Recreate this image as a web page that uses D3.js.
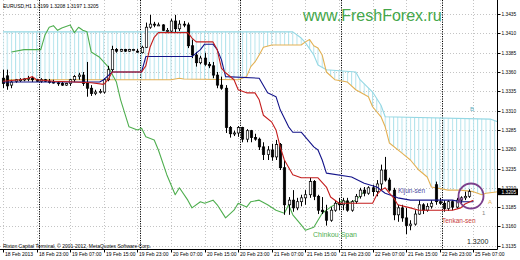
<!DOCTYPE html>
<html>
<head>
<meta charset="utf-8">
<script src="https://cdn.jsdelivr.net/npm/d3@7"></script>
<style>
    body { margin: 0; background: #fff; }
    svg { display: block; font-family: "Liberation Sans", Arial, sans-serif; }
</style>
</head>
<body>
<svg id="chart" width="520" height="260"></svg>
<script>
const timeLabels = ["18 Feb 2013", "18 Feb 23:00", "19 Feb 07:00", "19 Feb 15:00", "19 Feb 23:00",
    "20 Feb 07:00", "20 Feb 15:00", "20 Feb 23:00", "21 Feb 07:00", "21 Feb 15:00",
    "21 Feb 23:00", "22 Feb 07:00", "21 Feb 15:00", "22 Feb 23:00", "25 Feb 07:00"];
const timeLabelBars = [0, 8, 16, 24, 32, 40, 48, 56, 64, 72, 80, 88, 96, 104, 112];
const daySeparatorBars = [8.5, 32.5, 56.5, 80.5, 104.5];
const priceTicks = [1.3135, 1.3160, 1.3185, 1.3210, 1.3235, 1.3260, 1.3285, 1.3310,
    1.3335, 1.3360, 1.3385, 1.3410, 1.3435];
const lastPrice = 1.3205;

// [open, high, low, close], one per H1 bar
const candles = [
    [1.3352, 1.3363, 1.3339, 1.3345], [1.3355, 1.3363, 1.3337, 1.3342], [1.3343, 1.3350, 1.3339, 1.3347],
    [1.3348, 1.3351, 1.3346, 1.3350], [1.3350, 1.3352, 1.3347, 1.3350], [1.3350, 1.3352, 1.3348, 1.3351],
    [1.3351, 1.3355, 1.3348, 1.3352], [1.3352, 1.3354, 1.3347, 1.3350], [1.3350, 1.3351, 1.3347, 1.3348],
    [1.3348, 1.3352, 1.3346, 1.3350], [1.3350, 1.3351, 1.3347, 1.3348], [1.3348, 1.3351, 1.3345, 1.3347],
    [1.3347, 1.3350, 1.3345, 1.3346], [1.3346, 1.3348, 1.3342, 1.3345], [1.3345, 1.3347, 1.3342, 1.3343],
    [1.3343, 1.3346, 1.3342, 1.3345], [1.3345, 1.3351, 1.3342, 1.3350], [1.3350, 1.3356, 1.3347, 1.3354],
    [1.3354, 1.3359, 1.3350, 1.3356], [1.3356, 1.3360, 1.3342, 1.3345], [1.3345, 1.3373, 1.3328, 1.3339],
    [1.3339, 1.3343, 1.3329, 1.3332], [1.3332, 1.3337, 1.3330, 1.3334], [1.3334, 1.3338, 1.3332, 1.3335],
    [1.3334, 1.3352, 1.3332, 1.3350], [1.3350, 1.3368, 1.3348, 1.3363], [1.3363, 1.3394, 1.3360, 1.3389],
    [1.3389, 1.3391, 1.3385, 1.3387], [1.3387, 1.3390, 1.3386, 1.3389], [1.3389, 1.3390, 1.3386, 1.3387],
    [1.3387, 1.3390, 1.3386, 1.3389], [1.3389, 1.3390, 1.3387, 1.3389], [1.3387, 1.3390, 1.3385, 1.3386],
    [1.3385, 1.3394, 1.3384, 1.3392], [1.3392, 1.3424, 1.3391, 1.3418], [1.3418, 1.3434, 1.3416, 1.3422],
    [1.3422, 1.3425, 1.3418, 1.3421], [1.3421, 1.3424, 1.3420, 1.3421], [1.3421, 1.3422, 1.3413, 1.3414],
    [1.3413, 1.3417, 1.3411, 1.3414], [1.3413, 1.3429, 1.3412, 1.3426], [1.3426, 1.3434, 1.3411, 1.3416],
    [1.3416, 1.3427, 1.3413, 1.3422], [1.3422, 1.3426, 1.3418, 1.3421], [1.3421, 1.3424, 1.3391, 1.3394],
    [1.3394, 1.3402, 1.3378, 1.3382], [1.3382, 1.3386, 1.3367, 1.3372], [1.3372, 1.3381, 1.3370, 1.3378],
    [1.3378, 1.3385, 1.3368, 1.3370], [1.3370, 1.3373, 1.3365, 1.3368], [1.3368, 1.3373, 1.3352, 1.3356],
    [1.3356, 1.3360, 1.3339, 1.3343], [1.3343, 1.3354, 1.3337, 1.3339], [1.3339, 1.3343, 1.3281, 1.3288],
    [1.3288, 1.3290, 1.3275, 1.3280], [1.3280, 1.3284, 1.3277, 1.3281], [1.3281, 1.3290, 1.3276, 1.3288],
    [1.3288, 1.3289, 1.3269, 1.3273], [1.3273, 1.3286, 1.3269, 1.3284], [1.3284, 1.3285, 1.3269, 1.3275],
    [1.3275, 1.3280, 1.3271, 1.3273], [1.3273, 1.3275, 1.3259, 1.3263], [1.3263, 1.3269, 1.3246, 1.3253],
    [1.3253, 1.3264, 1.3246, 1.3259], [1.3259, 1.3267, 1.3245, 1.3250], [1.3250, 1.3272, 1.3246, 1.3266],
    [1.3266, 1.3268, 1.3233, 1.3236], [1.3236, 1.3246, 1.3175, 1.3188], [1.3188, 1.3198, 1.3175, 1.3194],
    [1.3194, 1.3207, 1.3179, 1.3184], [1.3184, 1.3197, 1.3181, 1.3192], [1.3192, 1.3201, 1.3186, 1.3197],
    [1.3197, 1.3207, 1.3188, 1.3201], [1.3201, 1.3223, 1.3197, 1.3218], [1.3218, 1.3220, 1.3194, 1.3199],
    [1.3199, 1.3201, 1.3176, 1.3181], [1.3181, 1.3198, 1.3176, 1.3179], [1.3179, 1.3188, 1.3161, 1.3168],
    [1.3168, 1.3185, 1.3166, 1.3181], [1.3181, 1.3194, 1.3179, 1.3190], [1.3190, 1.3197, 1.3181, 1.3188],
    [1.3188, 1.3197, 1.3181, 1.3193], [1.3193, 1.3197, 1.3179, 1.3181], [1.3181, 1.3194, 1.3179, 1.3192],
    [1.3192, 1.3202, 1.3189, 1.3199], [1.3199, 1.3210, 1.3196, 1.3207], [1.3207, 1.3211, 1.3199, 1.3203],
    [1.3203, 1.3212, 1.3201, 1.3210], [1.3210, 1.3214, 1.3199, 1.3205], [1.3205, 1.3220, 1.3199, 1.3215],
    [1.3215, 1.3240, 1.3207, 1.3233], [1.3233, 1.3250, 1.3218, 1.3220], [1.3220, 1.3223, 1.3205, 1.3207],
    [1.3207, 1.3210, 1.3168, 1.3175], [1.3175, 1.3188, 1.3166, 1.3184], [1.3184, 1.3188, 1.3166, 1.3171],
    [1.3171, 1.3184, 1.3150, 1.3161], [1.3161, 1.3168, 1.3155, 1.3163], [1.3163, 1.3181, 1.3161, 1.3176],
    [1.3176, 1.3194, 1.3175, 1.3188], [1.3188, 1.3190, 1.3176, 1.3181], [1.3181, 1.3190, 1.3179, 1.3186],
    [1.3186, 1.3194, 1.3183, 1.3190], [1.3214, 1.3218, 1.3188, 1.3192], [1.3192, 1.3197, 1.3188, 1.3190],
    [1.3190, 1.3194, 1.3179, 1.3183], [1.3183, 1.3194, 1.3180, 1.3192], [1.3192, 1.3194, 1.3181, 1.3185],
    [1.3185, 1.3197, 1.3183, 1.3194], [1.3194, 1.3199, 1.3188, 1.3197], [1.3197, 1.3205, 1.3194, 1.3199],
    [1.3199, 1.3208, 1.3197, 1.3205]
];

// Ichimoku lines as [bar, price] points
const tenkanSen = [[0, 1.3348], [4, 1.3350], [6, 1.3352], [7, 1.3354], [8, 1.3350], [12, 1.3348], [17, 1.3347],
    [21, 1.3346], [24, 1.3344], [25, 1.3350], [26, 1.3360], [33, 1.3360], [34, 1.3368], [35, 1.3392],
    [36, 1.3405], [37, 1.3411], [44, 1.3411], [45, 1.3404], [46, 1.3399], [50, 1.3399], [51, 1.3389],
    [52, 1.3365], [53, 1.3359], [55, 1.3350], [56, 1.3337], [58, 1.3333], [60, 1.3333], [61, 1.3324],
    [62, 1.3304], [64, 1.3295], [65, 1.3285], [66, 1.3263], [67, 1.3246], [69, 1.3227], [71, 1.3223],
    [75, 1.3223], [77, 1.3211], [78, 1.3198], [80, 1.3190], [88, 1.3190], [89, 1.3201], [90, 1.3207],
    [91, 1.3210], [92, 1.3203], [93, 1.3197], [94, 1.3188], [97, 1.3184], [99, 1.3181], [107, 1.3181],
    [109, 1.3184], [110, 1.3189], [112, 1.3194]];
const kijunSen = [[0, 1.3347], [23, 1.3347], [24, 1.3350], [26, 1.3360], [33, 1.3360], [34, 1.3380],
    [45, 1.3380], [47, 1.3389], [48, 1.3396], [50, 1.3396], [51, 1.3389], [52, 1.3376], [53, 1.3354],
    [61, 1.3352], [63, 1.3333], [65, 1.3328], [66, 1.3311], [68, 1.3289], [69, 1.3282], [71, 1.3282],
    [74, 1.3263], [75, 1.3259], [76, 1.3246], [77, 1.3229], [83, 1.3224], [86, 1.3216], [89, 1.3211],
    [91, 1.3203], [94, 1.3197], [97, 1.3194], [107, 1.3194], [109, 1.3192], [112, 1.3192]];
const senkouA = [[0, 1.3350], [40, 1.3350], [42, 1.3352], [43, 1.3351], [56, 1.3350], [58, 1.3354],
    [59, 1.3367], [60, 1.3373], [61, 1.3382], [62, 1.3392], [64, 1.3395], [71, 1.3395], [72, 1.3399],
    [73, 1.3402], [74, 1.3394], [75, 1.3391], [76, 1.3382], [77, 1.3360], [79, 1.3350], [82, 1.3347],
    [84, 1.3337], [87, 1.3328], [88, 1.3315], [90, 1.3302], [91, 1.3289], [92, 1.3268], [95, 1.3255],
    [97, 1.3246], [99, 1.3233], [101, 1.3224], [102, 1.3211], [106, 1.3207], [109, 1.3207], [112, 1.3205],
    [114, 1.3201], [115, 1.3203], [118, 1.3205]];
const senkouB = [[0, 1.3412], [69, 1.3412], [71, 1.3404], [72, 1.3398], [74, 1.3382], [75, 1.3369],
    [77, 1.3363], [84, 1.3360], [85, 1.3350], [88, 1.3334], [90, 1.3317], [91, 1.3302], [116, 1.3299],
    [118, 1.3295]];
const chinkouSpan = [[2, 1.3386], [5, 1.3389], [9, 1.3389], [10, 1.3408], [11, 1.3418], [12, 1.3420],
    [13, 1.3414], [14, 1.3417], [16, 1.3421], [17, 1.3411], [18, 1.3418], [19, 1.3414], [20, 1.3412],
    [21, 1.3386], [23, 1.3379], [25, 1.3367], [27, 1.3347], [28, 1.3324], [30, 1.3289], [32, 1.3285],
    [33, 1.3287], [34, 1.3276], [36, 1.3272], [37, 1.3259], [39, 1.3227], [40, 1.3214], [41, 1.3201],
    [42, 1.3210], [44, 1.3194], [45, 1.3184], [47, 1.3192], [48, 1.3190], [50, 1.3194], [51, 1.3188],
    [53, 1.3171], [55, 1.3181], [56, 1.3190], [58, 1.3185], [59, 1.3192], [61, 1.3194], [63, 1.3188],
    [65, 1.3181], [67, 1.3177], [68, 1.3188], [69, 1.3175], [71, 1.3162], [72, 1.3155], [74, 1.3159],
    [75, 1.3168], [76, 1.3177], [78, 1.3185], [81, 1.3194], [82, 1.3190], [84, 1.3194], [86, 1.3205]];

const svg = d3.select("#chart");
const plotRight = 497.5, plotBottom = 249.5;

const x = d3.scaleLinear().domain([0, 1]).range([3, 7.2]);
const y = d3.scaleLinear().domain([1.3135, 1.3435]).range([245.7, 14.1]);

const defs = svg.append("defs");
defs.append("clipPath").attr("id", "plotClip")
    .append("rect").attr("x", 0).attr("y", 0).attr("width", plotRight).attr("height", plotBottom);

const hatch = defs.append("pattern")
    .attr("id", "cloudHatch")
    .attr("patternUnits", "userSpaceOnUse")
    .attr("x", x(0) - 0.5).attr("y", 0)
    .attr("width", x(1) - x(0)).attr("height", 10);
hatch.append("line")
    .attr("x1", 0.5).attr("x2", 0.5).attr("y1", 0).attr("y2", 10)
    .attr("stroke", "#b3e3ec").attr("stroke-width", 1);

// grid
const grid = svg.append("g");
grid.selectAll(".hgrid")
    .data(priceTicks)
    .enter().append("line")
    .attr("x1", 0).attr("x2", plotRight)
    .attr("y1", d => Math.round(y(d)) + 0.5).attr("y2", d => Math.round(y(d)) + 0.5)
    .attr("stroke", "#c4c4c4").attr("stroke-width", 1).attr("stroke-dasharray", "1,2");
grid.selectAll(".vgrid")
    .data(timeLabelBars)
    .enter().append("line")
    .attr("x1", d => Math.round(x(d)) + 0.5).attr("x2", d => Math.round(x(d)) + 0.5)
    .attr("y1", 0).attr("y2", plotBottom)
    .attr("stroke", "#c4c4c4").attr("stroke-width", 1).attr("stroke-dasharray", "1,2");

const plot = svg.append("g").attr("clip-path", "url(#plotClip)");

// kumo cloud: polygon between senkou A and senkou B, hatched
const cloudPts = senkouA.concat(senkouB.slice().reverse());
plot.append("path")
    .attr("d", d3.line().x(d => x(d[0])).y(d => y(d[1]))(cloudPts) + "Z")
    .attr("fill", "url(#cloudHatch)")
    .attr("fill-rule", "evenodd")
    .attr("stroke", "none");

// day separators
plot.selectAll(".daySep")
    .data(daySeparatorBars)
    .enter().append("line")
    .attr("x1", d => Math.round(x(d)) + 0.5).attr("x2", d => Math.round(x(d)) + 0.5)
    .attr("y1", 0).attr("y2", plotBottom)
    .attr("stroke", "#000").attr("stroke-width", 1).attr("stroke-dasharray", "1.2,1.2");

const line = d3.line().x(d => x(d[0])).y(d => y(d[1]));

function drawLine(data, color, width) {
    plot.append("path")
        .attr("d", line(data))
        .attr("fill", "none")
        .attr("stroke", color)
        .attr("stroke-width", width)
        .attr("stroke-linejoin", "round");
}

drawLine(senkouB, "#95d8e4", 1.1);
drawLine(senkouA, "#e3b154", 1.1);
drawLine(chinkouSpan, "#4fae4f", 1.1);

// candles
const bars = plot.append("g");
candles.forEach((c, i) => {
    const [o, h, l, cl] = c;
    const cx = Math.round(x(i)) + 0.5;
    bars.append("line")
        .attr("x1", cx).attr("x2", cx)
        .attr("y1", y(h)).attr("y2", y(l))
        .attr("stroke", "#000").attr("stroke-width", 1);
    const top = y(Math.max(o, cl));
    const hgt = Math.max(1, Math.abs(y(o) - y(cl)));
    bars.append("rect")
        .attr("x", cx - 1.2).attr("y", top)
        .attr("width", 2.4).attr("height", hgt)
        .attr("fill", cl >= o ? "#fff" : "#000")
        .attr("stroke", "#000").attr("stroke-width", 0.7);
});

drawLine(kijunSen, "#14148a", 1.1);
drawLine(tenkanSen, "#c41e1e", 1.1);

// axes frame
svg.append("line")
    .attr("x1", plotRight).attr("x2", plotRight).attr("y1", 0).attr("y2", plotBottom)
    .attr("stroke", "#000");
svg.append("line")
    .attr("x1", 0).attr("x2", plotRight).attr("y1", plotBottom).attr("y2", plotBottom)
    .attr("stroke", "#000");

// price axis
const yAxis = svg.append("g");
priceTicks.forEach(p => {
    const ty = Math.round(y(p)) + 0.5;
    yAxis.append("line")
        .attr("x1", plotRight).attr("x2", plotRight + 3).attr("y1", ty).attr("y2", ty)
        .attr("stroke", "#000");
    yAxis.append("text")
        .attr("x", plotRight + 4).attr("y", ty + 1.7)
        .attr("font-size", "4.8px").attr("fill", "#000")
        .text(p.toFixed(4));
});
yAxis.append("rect")
    .attr("x", plotRight + 0.5).attr("y", y(lastPrice) - 3)
    .attr("width", 20).attr("height", 6.5)
    .attr("fill", "#000");
yAxis.append("text")
    .attr("x", plotRight + 4).attr("y", y(lastPrice) + 2)
    .attr("font-size", "4.8px").attr("fill", "#fff")
    .text(lastPrice.toFixed(4));

// time axis
const xAxis = svg.append("g");
timeLabelBars.forEach((b, k) => {
    const tx = Math.round(x(b)) + 0.5;
    xAxis.append("line")
        .attr("x1", tx).attr("x2", tx).attr("y1", plotBottom).attr("y2", plotBottom + 3)
        .attr("stroke", "#000");
    xAxis.append("text")
        .attr("x", tx + 1.5).attr("y", 256)
        .attr("font-size", "5px").attr("fill", "#000")
        .text(timeLabels[k]);
});

// texts
svg.append("text").attr("x", 3).attr("y", 8)
    .attr("font-size", "5px").attr("fill", "#000")
    .text("EURUSD,H1  1.3199 1.3208 1.3197 1.3205");
svg.append("text").attr("x", 3).attr("y", 247.5)
    .attr("font-size", "5px").attr("fill", "#000")
    .text("Rixton Capital Terminal, © 2001-2012, MetaQuotes Software Corp.");
svg.append("text").attr("x", 303).attr("y", 21)
    .attr("font-size", "16px").attr("fill", "#44a64a")
    .text("www.FreshForex.ru");

svg.append("text").attr("x", 398).attr("y", 193)
    .attr("font-size", "6.5px").attr("fill", "#4a4aa0").text("Kijun-sen");
svg.append("text").attr("x", 442).attr("y", 223)
    .attr("font-size", "6.5px").attr("fill", "#c83c3c").text("Tenkan-sen");
svg.append("text").attr("x", 313).attr("y", 237)
    .attr("font-size", "7px").attr("fill", "#4fae4f").text("Chinkou Span");
svg.append("text").attr("x", 470).attr("y", 111)
    .attr("font-size", "6px").attr("fill", "#5fb0c4").text("B");
svg.append("text").attr("x", 488).attr("y", 204)
    .attr("font-size", "6px").attr("fill", "#e3b154").text("A");
svg.append("text").attr("x", 482).attr("y", 215)
    .attr("font-size", "6px").attr("fill", "#888").text("1");
svg.append("text").attr("x", 467).attr("y", 244)
    .attr("font-size", "7px").attr("fill", "#222").text("1.3200");

// marker circle around the last bar
svg.append("circle")
    .attr("cx", 471).attr("cy", 196).attr("r", 12.5)
    .attr("fill", "none").attr("stroke", "#7b3f8c").attr("stroke-width", 1.8);
svg.append("line")
    .attr("x1", 457).attr("y1", 203).attr("x2", 463).attr("y2", 198)
    .attr("stroke", "#7b3f8c").attr("stroke-width", 1.2);
</script>
</body>
</html>
